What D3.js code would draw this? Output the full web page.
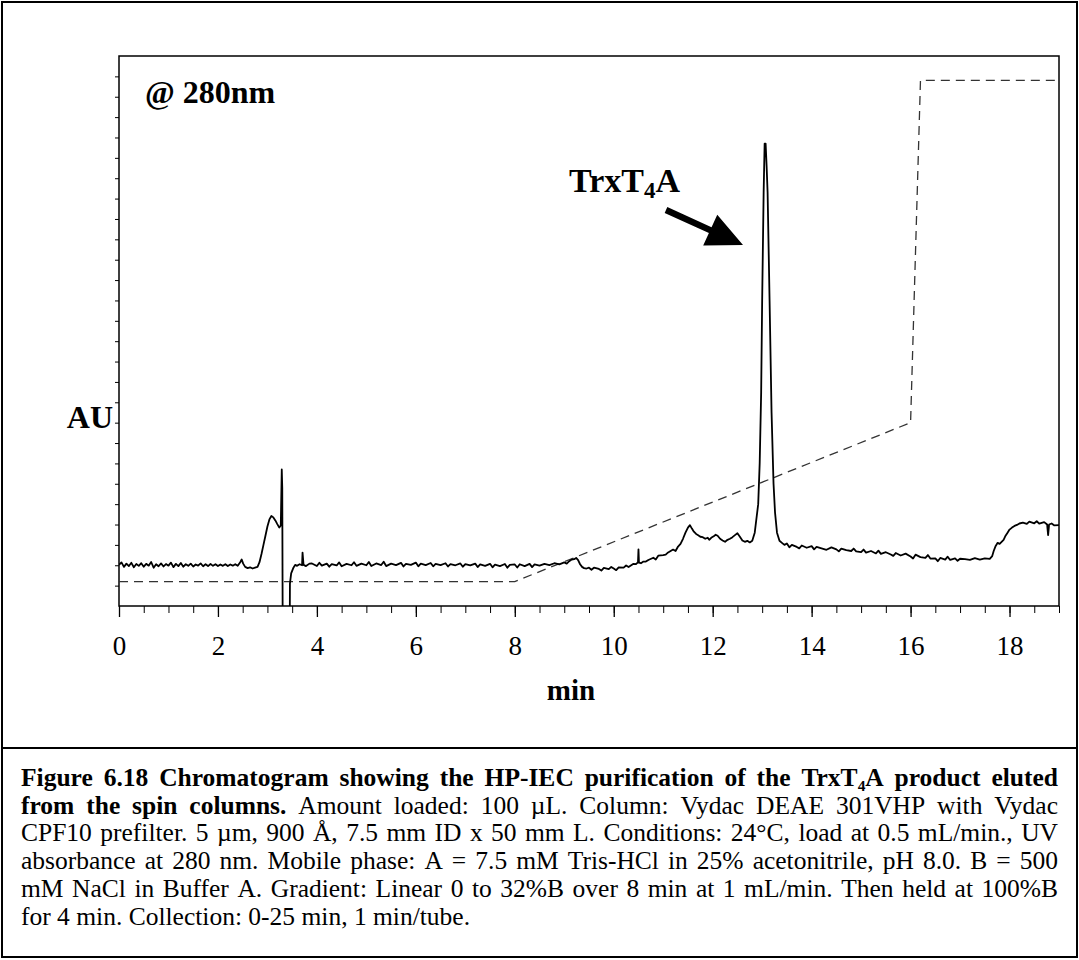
<!DOCTYPE html>
<html><head><meta charset="utf-8">
<script src="https://cdn.jsdelivr.net/npm/d3@7/dist/d3.min.js"></script>
<style>
body{margin:0;background:#fff;}
svg{display:block;}
</style></head>
<body>
<script>
// ---------- DATA ----------
const xMajorTicks = [0,2,4,6,8,10,12,14,16,18];
const xMinorTicks = d3.range(0, 19.01, 0.5);
const yMinorTicks = d3.range(1, 27, 1);

// gradient (dashed) : time (min) and level (axis units)
const gradTime  = [0, 8, 16, 16.2, 19];
const gradLevel = [1.2, 1.2, 9.0, 25.8, 25.8];

// absorbance trace : time (min) and value (axis units)
const traceTime = [
0.00,0.05,0.10,0.15,0.20,0.25,0.30,0.35,0.40,0.45,0.50,0.55,0.60,0.65,0.70,0.75,0.80,0.85,0.90,0.95,
1.00,1.05,1.10,1.15,1.20,1.25,1.30,1.35,1.40,1.45,1.50,1.55,1.60,1.65,1.70,1.75,1.80,1.85,1.90,1.95,
2.00,2.05,2.10,2.15,2.20,2.25,2.30,2.35,2.40,2.45,2.48,2.51,2.55,2.60,2.65,2.70,2.75,2.80,2.84,2.88,
2.92,2.96,3.00,3.04,3.08,3.12,3.16,3.20,3.24,3.27,3.29,3.30,3.31,3.45,3.455,3.48,3.52,3.56,3.60,3.65,
3.70,3.71,3.73,3.78,3.85,3.90,4.00,4.05,4.10,4.20,4.25,4.30,4.40,4.45,4.50,4.60,4.70,4.75,4.80,4.90,
5.00,5.05,5.10,5.20,5.30,5.35,5.40,5.50,5.60,5.70,5.75,5.80,5.90,6.00,6.05,6.10,6.20,6.30,6.35,6.40,
6.50,6.60,6.65,6.70,6.80,6.90,6.95,7.00,7.10,7.20,7.25,7.30,7.40,7.50,7.55,7.60,7.70,7.80,7.85,7.90,
8.00,8.05,8.10,8.20,8.30,8.35,8.40,8.50,8.60,8.70,8.80,8.90,9.00,9.05,9.10,9.15,9.20,9.24,9.28,9.32,
9.36,9.40,9.45,9.50,9.55,9.60,9.70,9.75,9.80,9.90,9.95,10.00,10.05,10.10,10.20,10.25,10.30,10.40,10.45,10.49,
10.50,10.51,10.55,10.60,10.65,10.70,10.80,10.85,10.90,11.00,11.05,11.10,11.20,11.25,11.30,11.35,11.40,11.45,11.50,11.54,
11.58,11.62,11.66,11.70,11.75,11.80,11.85,11.90,11.93,11.97,12.02,12.06,12.10,12.15,12.20,12.25,12.30,12.35,12.40,12.45,
12.50,12.55,12.60,12.65,12.70,12.75,12.80,12.85,12.88,12.92,12.95,12.98,13.00,13.03,13.05,13.07,13.09,13.11,13.15,13.19,
13.23,13.26,13.30,13.35,13.40,13.45,13.50,13.55,13.60,13.70,13.75,13.80,13.90,14.00,14.05,14.10,14.20,14.30,14.40,14.50,
14.55,14.60,14.70,14.80,14.85,14.90,15.00,15.05,15.10,15.20,15.30,15.35,15.40,15.50,15.60,15.65,15.70,15.80,15.90,16.00,
16.05,16.10,16.20,16.30,16.35,16.40,16.50,16.55,16.60,16.70,16.75,16.80,16.90,16.95,17.00,17.10,17.20,17.30,17.40,17.50,
17.60,17.65,17.68,17.72,17.76,17.80,17.84,17.88,17.92,17.96,18.00,18.05,18.10,18.15,18.20,18.27,18.35,18.40,18.50,18.55,
18.60,18.70,18.76,18.78,18.80,18.85,18.90,19.00
];
const traceValue = [
2.02,2.14,1.92,2.08,1.96,2.12,1.90,2.06,1.97,2.10,1.93,2.07,1.98,2.16,1.88,2.05,1.95,2.09,1.94,2.06,
1.98,2.13,1.91,2.07,1.96,2.11,1.93,2.05,1.97,2.08,1.94,2.04,1.98,2.09,1.95,2.05,1.96,2.06,1.97,2.05,
1.96,2.04,1.97,2.05,1.96,2.04,1.98,2.05,1.97,2.15,2.28,2.08,1.92,1.86,1.90,1.84,1.88,1.92,2.15,2.55,
3.00,3.45,3.90,4.25,4.42,4.35,4.20,4.02,3.85,3.95,6.70,5.80,-2.0,-2.0,1.10,1.60,1.85,2.02,1.97,2.05,
2.00,2.62,2.02,1.96,2.08,2.09,1.96,2.12,1.98,2.08,1.93,2.06,1.99,2.14,1.95,2.07,2.00,2.15,1.97,2.08,
2.00,2.16,1.96,2.09,2.01,2.17,1.96,2.08,2.01,2.12,1.94,2.07,2.02,2.13,1.95,2.08,2.01,2.11,1.95,2.07,
2.01,2.10,1.94,2.06,2.00,2.09,1.93,2.05,1.99,2.08,1.91,2.04,1.97,2.07,1.90,2.03,1.96,2.06,1.88,2.02,
2.04,1.89,2.05,1.96,2.07,1.91,2.04,1.98,2.07,2.01,2.10,2.04,2.14,2.08,2.20,2.28,2.30,2.36,2.25,2.05,
1.92,1.86,1.84,1.88,1.78,1.88,1.82,1.74,1.87,1.81,1.92,1.84,1.76,1.90,1.88,1.99,1.91,2.07,2.06,2.14,
2.78,2.13,2.10,2.18,2.18,2.26,2.37,2.28,2.47,2.50,2.52,2.63,2.77,2.70,2.92,3.05,3.30,3.60,3.85,3.97,
3.80,3.65,3.55,3.48,3.40,3.38,3.30,3.35,3.25,3.35,3.42,3.50,3.45,3.30,3.22,3.15,3.25,3.30,3.38,3.48,
3.57,3.40,3.22,3.15,3.20,3.12,3.20,3.60,4.20,5.00,7.00,10.5,15.0,20.3,22.7,22.7,21.6,20.3,15.0,9.5,
6.00,4.60,3.60,3.20,3.10,3.00,3.07,2.88,3.00,2.90,2.83,2.97,2.86,2.94,2.78,2.90,2.83,2.76,2.88,2.78,
2.68,2.82,2.74,2.70,2.82,2.68,2.64,2.77,2.62,2.70,2.58,2.72,2.56,2.64,2.53,2.46,2.60,2.48,2.57,2.43,
2.33,2.52,2.40,2.36,2.50,2.33,2.34,2.20,2.36,2.28,2.42,2.26,2.34,2.22,2.32,2.30,2.26,2.35,2.28,2.34,
2.31,2.45,2.70,2.95,3.10,3.05,3.15,3.25,3.45,3.60,3.75,3.85,3.93,3.98,4.05,4.09,4.03,4.14,4.06,4.16,
4.04,4.12,4.00,3.48,4.00,4.05,3.96,3.97
];

// caption lines: runs of [text, style] (b = bold, n = normal)
const captionLines = [
  [["Figure 6.18 Chromatogram showing the HP-IEC purification of the TrxT₄A product eluted","b"]],
  [["from the spin columns.","b"],[" Amount loaded: 100 µL. Column: Vydac DEAE 301VHP with Vydac","n"]],
  [["CPF10 prefilter. 5 µm, 900 Å, 7.5 mm ID x 50 mm L. Conditions: 24°C, load at 0.5 mL/min., UV","n"]],
  [["absorbance at 280 nm. Mobile phase: A = 7.5 mM Tris-HCl in 25% acetonitrile, pH 8.0. B = 500","n"]],
  [["mM NaCl in Buffer A. Gradient: Linear 0 to 32%B over 8 min at 1 mL/min. Then held at 100%B","n"]],
  [["for 4 min. Collection: 0-25 min, 1 min/tube.","n"]]
];

// ---------- DRAW ----------
const W = 1079, H = 960;
const FONT = '"Liberation Serif","Times New Roman",Times,serif';
const svg = d3.select("body").append("svg").attr("width", W).attr("height", H)
  .style("font-family", FONT);

svg.append("rect").attr("x",0).attr("y",0).attr("width",W).attr("height",H).attr("fill","#fff");

// outer frame + caption separator
svg.append("rect").attr("x",2).attr("y",2).attr("width",1075).attr("height",955)
  .attr("fill","none").attr("stroke","#000").attr("stroke-width",2);
svg.append("line").attr("x1",2).attr("x2",1077).attr("y1",748).attr("y2",748)
  .attr("stroke","#000").attr("stroke-width",2);

const L = 119, R = 1059, T = 56, B = 606;
const x = d3.scaleLinear().domain([0,19]).range([L,R]);
const y = d3.scaleLinear().domain([0,27]).range([B,T]);

svg.append("clipPath").attr("id","plotclip").append("rect")
  .attr("x",L).attr("y",T).attr("width",R-L).attr("height",B-T);

// y axis minor ticks (no labels)
const yAx = svg.append("g").attr("transform",`translate(${L},0)`)
  .call(d3.axisLeft(y).tickValues(yMinorTicks).tickSize(4).tickFormat(""));
yAx.select(".domain").remove();
yAx.selectAll("line").attr("stroke","#000").attr("stroke-width",1);

// x axis minor ticks
const xMin = svg.append("g").attr("transform",`translate(0,${B})`)
  .call(d3.axisBottom(x).tickValues(xMinorTicks).tickSize(7).tickFormat(""));
xMin.select(".domain").remove();
xMin.selectAll("line").attr("stroke","#000").attr("stroke-width",1);

// x axis major ticks with labels
const xMaj = svg.append("g").attr("transform",`translate(0,${B})`)
  .call(d3.axisBottom(x).tickValues(xMajorTicks).tickSize(11).tickFormat(d3.format("d")));
xMaj.select(".domain").remove();
xMaj.selectAll("line").attr("stroke","#000").attr("stroke-width",1.3);
xMaj.selectAll("text").attr("y",49).attr("dy",0)
  .style("font-family",FONT).style("font-size","27px").attr("fill","#000");

// plot frame
svg.append("rect").attr("x",L).attr("y",T).attr("width",R-L).attr("height",B-T)
  .attr("fill","none").attr("stroke","#000").attr("stroke-width",1.5);

// gradient dashed line
const gradData = gradTime.map((t,i)=>[t, gradLevel[i]]);
svg.append("path").datum(gradData)
  .attr("clip-path","url(#plotclip)")
  .attr("d", d3.line().x(d=>x(d[0])).y(d=>y(d[1])))
  .attr("fill","none").attr("stroke","#333").attr("stroke-width",1.3)
  .attr("stroke-dasharray","9,6");

// absorbance trace
const traceData = traceTime.map((t,i)=>[t, traceValue[i]]);
svg.append("path").datum(traceData)
  .attr("clip-path","url(#plotclip)")
  .attr("d", d3.line().x(d=>x(d[0])).y(d=>y(d[1])))
  .attr("fill","none").attr("stroke","#000").attr("stroke-width",1.8)
  .attr("stroke-linejoin","round");

// labels
svg.append("text").attr("x",145).attr("y",103).text("@ 280nm")
  .style("font-size","32px").style("font-weight","bold");
const lab = svg.append("text").attr("x",569).attr("y",192)
  .style("font-size","34px").style("font-weight","bold");
lab.append("tspan").text("TrxT");
lab.append("tspan").text("4").style("font-size","23px").attr("dy",6);
lab.append("tspan").text("A").attr("dy",-6);

svg.append("text").attr("x",113).attr("y",428).attr("text-anchor","end").text("AU")
  .style("font-size","32px").style("font-weight","bold");
svg.append("text").attr("x",571).attr("y",700).attr("text-anchor","middle").text("min")
  .style("font-size","29px").style("font-weight","bold");

// arrow
(function(){
  const x0=666, y0=210, tx=743, ty=245;
  const dx=tx-x0, dy=ty-y0, len=Math.hypot(dx,dy), ux=dx/len, uy=dy/len;
  const px=-uy, py=ux, head=36, hw=17, sw=3.2;
  const bx=tx-ux*head, by=ty-uy*head;
  const pts=[[x0+px*sw,y0+py*sw],[bx+px*sw,by+py*sw],[bx+px*hw,by+py*hw],[tx,ty],
             [bx-px*hw,by-py*hw],[bx-px*sw,by-py*sw],[x0-px*sw,y0-py*sw]];
  svg.append("path").attr("d","M"+pts.map(p=>p.join(",")).join("L")+"Z").attr("fill","#000");
})();

// caption (justified)
const capLeft = 21, capRight = 1058, capTop = 786, capLH = 27.7, capFS = 25.5;
captionLines.forEach((runs, li) => {
  const words = [];
  let cur = [];
  runs.forEach(([txt, st]) => {
    const parts = txt.split(/( )/);
    parts.forEach(p => {
      if (p === " ") { if (cur.length) { words.push(cur); cur = []; } }
      else if (p.length) cur.push([p, st]);
    });
  });
  if (cur.length) words.push(cur);
  const yy = capTop + li*capLH;
  const nodes = words.map(w => {
    const t = svg.append("text").attr("x",0).attr("y",yy).style("font-size",capFS+"px");
    w.forEach(([p, st]) => {
      const ts = t.append("tspan").text(p);
      if (st.includes("b")) ts.style("font-weight","bold");
    });
    return t;
  });
  const widths = nodes.map(n => n.node().getComputedTextLength());
  const total = d3.sum(widths);
  const last = li === captionLines.length-1;
  const gap = last ? capFS*0.25 : (capRight-capLeft-total)/(nodes.length-1);
  let cx = capLeft;
  nodes.forEach((n,i) => { n.attr("x", cx); cx += widths[i] + gap; });
});
</script>
</body></html>
